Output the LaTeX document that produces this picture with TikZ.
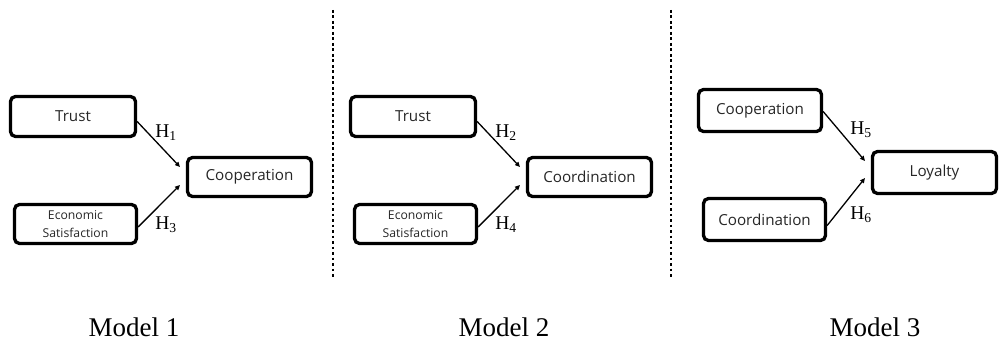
\documentclass[tikz,border=0pt]{standalone}
\usepackage{fontspec}
\setmainfont{Liberation Serif}
\newfontfamily\boxfont{Open Sans}
\usetikzlibrary{arrows.meta}
\tikzset{
  box/.style={draw=black, line width=3.3pt, rounded corners=5pt, inner sep=0pt,
    font=\boxfont\fontsize{15.2}{17}\selectfont, text=black!85, align=center},
  smallbox/.style={box, font=\boxfont\fontsize{12.2}{18.5}\selectfont},
  arr/.style={line width=1.3pt, -{Triangle[length=5pt,width=4.5pt]}},
  hlab/.style={font=\fontsize{19.5}{20}\selectfont, inner sep=0pt},
  mlab/.style={font=\fontsize{27}{28}\selectfont, inner sep=0pt},
  sep/.style={line width=2.8pt, dash pattern=on 2.8pt off 2.7pt, black},
}
\newcommand{\hsub}[1]{H\textsubscript{#1}}
\begin{document}
\begin{tikzpicture}[x=1pt,y=-1pt]
\useasboundingbox (0,0) rectangle (1001,342);
% Model 1
\node[box, minimum width=125pt, minimum height=40pt] (t1) at (73,116.5) {Trust};
\node[smallbox, minimum width=122pt, minimum height=39pt] (e1) at (75.5,224) {Economic\\Satisfaction};
\node[box, minimum width=124pt, minimum height=39pt] (c1) at (249.5,177) {Cooperation};
\coordinate (p1a) at (180,167);
\coordinate (p1b) at (180,185);
\draw[arr] ([yshift=-5pt]t1.east) -- (p1a);
\draw[arr] ([yshift=-3pt]e1.east) -- (p1b);
\node[hlab] (h1) at (166,133) {\hsub{1}};
\node[hlab] (h3) at (166,225) {\hsub{3}};
% Model 2
\node[box, minimum width=125pt, minimum height=40pt] (t2) at (413,116.5) {Trust};
\node[smallbox, minimum width=122pt, minimum height=39pt] (e2) at (415.5,224) {Economic\\Satisfaction};
\node[box, minimum width=124pt, minimum height=39pt] (c2) at (589.5,177) {Coordination};
\coordinate (p2a) at (520,167);
\coordinate (p2b) at (520,185);
\draw[arr] ([yshift=-5pt]t2.east) -- (p2a);
\draw[arr] ([yshift=-3pt]e2.east) -- (p2b);
\node[hlab] (h2) at (506,133) {\hsub{2}};
\node[hlab] (h4) at (506,225) {\hsub{4}};
% Model 3
\node[box, minimum width=123pt, minimum height=42pt] (c3) at (760,110.5) {Cooperation};
\node[box, minimum width=122pt, minimum height=42pt] (d3) at (764.5,219.5) {Coordination};
\node[box, minimum width=124pt, minimum height=42pt] (l3) at (934.5,172.5) {Loyalty};
\coordinate (p3a) at (865,161);
\coordinate (p3b) at (865,178);
\draw[arr] ([yshift=-1pt]c3.east) -- (p3a);
\draw[arr] ([yshift=-6pt]d3.east) -- (p3b);
\node[hlab] (h5) at (861,130) {\hsub{5}};
\node[hlab] (h6) at (861,215) {\hsub{6}};
% separators
\coordinate (s1a) at (333,10);
\coordinate (s1b) at (333,277);
\coordinate (s2a) at (671,10);
\coordinate (s2b) at (671,277);
\draw[sep] (s1a) -- (s1b);
\draw[sep] (s2a) -- (s2b);
% model labels
\node[mlab] (m1) at (134,327) {Model 1};
\node[mlab] (m2) at (504,327) {Model 2};
\node[mlab] (m3) at (875,327) {Model 3};
\end{tikzpicture}
\end{document}
